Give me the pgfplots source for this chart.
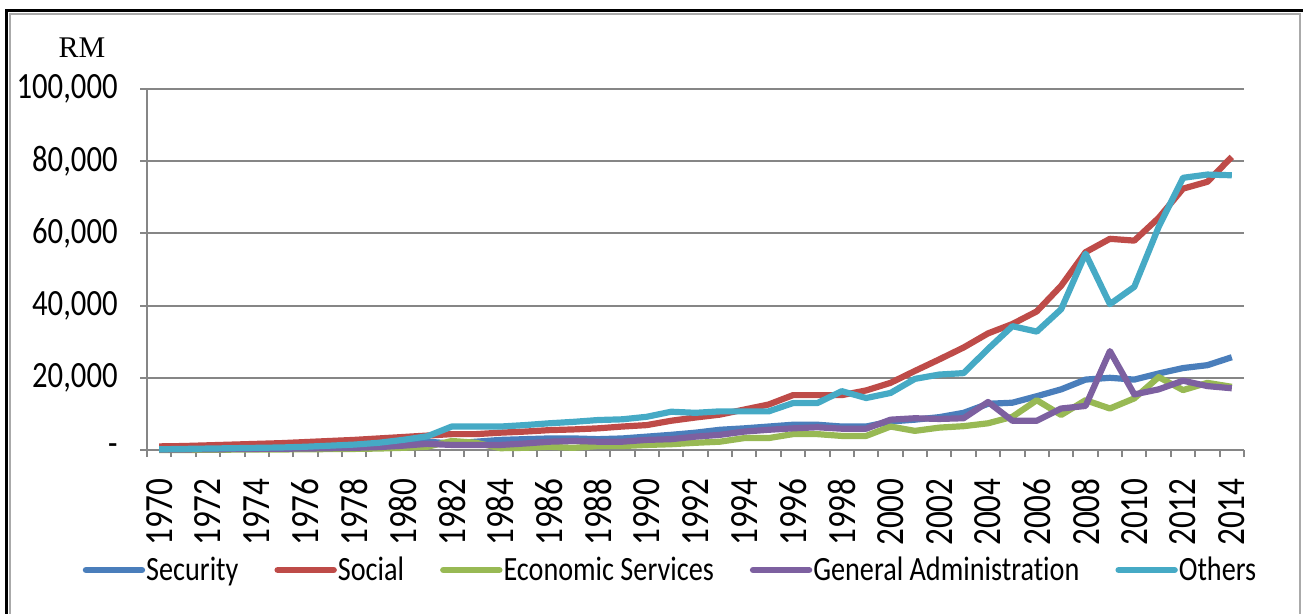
\documentclass[border=0pt]{standalone}
\usepackage{fontspec}
\setmainfont{Carlito}[FakeStretch=0.83, Ligatures=NoCommon]
\newfontfamily\rmserif{Liberation Serif}
\usepackage{pgfplots}
\pgfplotsset{compat=1.18}
\usepackage{pgfplotstable}
\definecolor{cSec}{HTML}{4A7EBB}
\definecolor{cSoc}{HTML}{BE4B48}
\definecolor{cEco}{HTML}{98B954}
\definecolor{cGen}{HTML}{7D60A0}
\definecolor{cOth}{HTML}{46AAC5}
\definecolor{gridc}{HTML}{868686}

\pgfplotstableread{
year sec soc eco gen oth
1970 200 1000 0 100 200
1971 250 1100 0 150 300
1972 300 1300 50 200 400
1973 350 1500 100 250 500
1974 400 1700 100 300 600
1975 500 1900 150 350 700
1976 600 2200 200 400 900
1977 700 2500 250 500 1200
1978 800 2800 300 600 1500
1979 1000 3200 400 800 2000
1980 1500 3600 600 1200 2800
1981 2300 4000 900 1700 3800
1982 1800 4400 2500 1400 6500
1983 2300 4400 2000 1400 6500
1984 2800 4800 500 1400 6500
1985 3000 5100 600 1800 6900
1986 3200 5500 900 2300 7400
1987 3200 5700 600 2500 7800
1988 3000 6000 1100 2300 8300
1989 3200 6500 1100 2300 8500
1990 3700 6900 1400 2800 9200
1991 4200 8100 1600 3000 10600
1992 4800 9000 2000 3700 10300
1993 5600 9800 2300 4200 10700
1994 6000 11200 3300 5100 10700
1995 6500 12600 3300 5600 10700
1996 7000 15200 4400 6000 13000
1997 7000 15200 4400 6300 13000
1998 6500 15200 3900 5900 16300
1999 6500 16500 3900 5900 14400
2000 7900 18600 6500 8400 15800
2001 8400 21900 5300 8800 19700
2002 9100 25100 6200 8600 20900
2003 10300 28400 6600 8800 21300
2004 12800 32300 7400 13300 28000
2005 13100 34900 9200 8100 34300
2006 14900 38400 13800 8100 32800
2007 16800 45500 9700 11500 39000
2008 19500 54800 13800 12200 54400
2009 20000 58500 11500 27400 40400
2010 19500 58000 14300 15400 45200
2011 21200 64300 20200 16800 61800
2012 22700 72400 16600 19200 75400
2013 23500 74300 18600 17700 76300
2014 25700 81200 17500 17100 76100
}\datatable

\begin{document}
\begin{tikzpicture}
\useasboundingbox (-73.5bp,-82bp) rectangle (578bp,225bp);
\begin{axis}[
  at={(0,0)}, anchor=south west,
  scale only axis, width=548.5bp, height=180.5bp,
  xmin=1969.5, xmax=2014.5, ymin=0, ymax=100000,
  scaled y ticks=false,
  axis lines=left, axis line style={-, draw=gridc, line width=1bp},
  ymajorgrids, grid style={draw=gridc, line width=1bp},
  ytick={0,20000,40000,60000,80000,100000},
  yticklabels={-\hspace{12bp},{20,000},{40,000},{60,000},{80,000},{100,000}},
  yticklabel style={font=\fontsize{18.5bp}{20bp}\selectfont, anchor=east, inner sep=0pt, xshift=-11bp},
  ytick style={draw=gridc, line width=1bp},
  tick align=outside, major tick length=3.5bp,
  xtick={1969.5,1970.5,...,2014.6},
  xticklabels={},
  xtick style={draw=gridc, line width=1bp},
  extra x ticks={1970,1972,...,2014},
  extra x tick labels={1970,1972,1974,1976,1978,1980,1982,1984,1986,1988,1990,1992,1994,1996,1998,2000,2002,2004,2006,2008,2010,2012,2014},
  extra x tick style={major tick length=0pt, xticklabel style={yshift=-14bp, rotate=90, anchor=east, inner sep=0pt, font=\fontsize{20bp}{22bp}\selectfont}},
  clip=false,
  legend columns=5,
  legend style={at={(261.5bp,-60bp)}, anchor=center, draw=none, fill=none,
    font=\fontsize{17bp}{19bp}\selectfont, inner sep=0pt,
    nodes={inner sep=0.5bp},
    /tikz/every even column/.append style={column sep=17.5bp},
    /tikz/every odd column/.append style={column sep=0bp}},
  legend image code/.code={\draw[#1, line width=3.2bp, line cap=round] (0bp,0bp) -- (28bp,0bp);},
  every axis plot/.append style={line width=3.1bp, line join=round, mark=none},
]
\addplot[cSec] table[x=year,y=sec] {\datatable};
\addlegendentry{Security}
\addplot[cSoc] table[x=year,y=soc] {\datatable};
\addlegendentry{Social}
\addplot[cEco] table[x=year,y=eco] {\datatable};
\addlegendentry{Economic Services}
\addplot[cGen] table[x=year,y=gen] {\datatable};
\addlegendentry{General Administration}
\addplot[cOth] table[x=year,y=oth] {\datatable};
\addlegendentry{Others}
\end{axis}
\node[font=\rmserif\fontsize{15bp}{17bp}\selectfont] at (-32.5bp,201bp) {RM};
\draw[black, line width=1.5bp] (-70.25bp,-82bp) -- (-70.25bp,219.5bp) -- (578bp,219.5bp);
\draw[gridc!70, line width=1bp] (-68.5bp,-82bp) -- (-68.5bp,218bp) -- (576.5bp,218bp) -- (576.5bp,-82bp);
\end{tikzpicture}
\end{document}
